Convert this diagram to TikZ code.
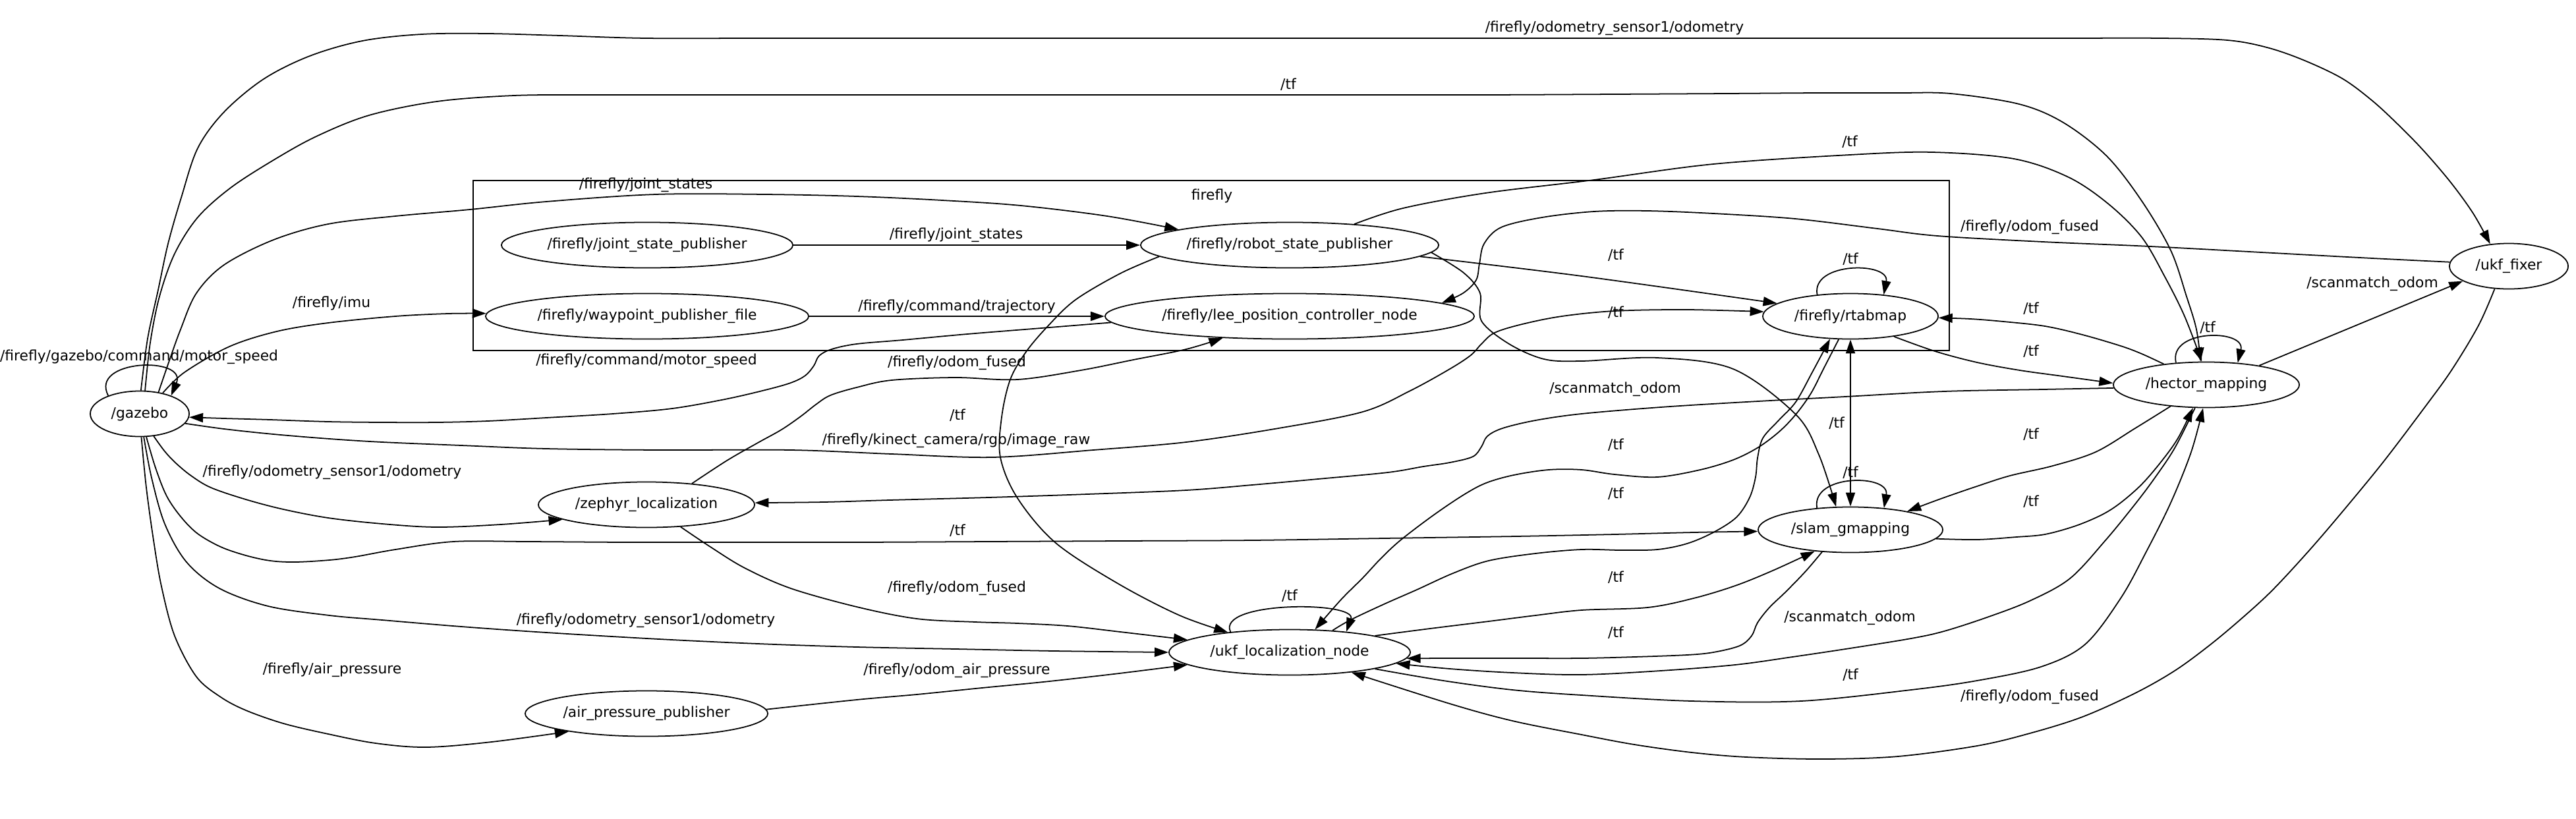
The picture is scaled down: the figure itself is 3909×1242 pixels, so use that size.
\documentclass[tikz,border=0pt]{standalone}
\usepackage{fontspec}
\setmainfont{DejaVu Sans}
\usetikzlibrary{arrows.meta,shapes.geometric}
\begin{document}
\begin{tikzpicture}[x=0.01cm,y=-0.01cm,
  every node/.style={font=\fontsize{6.2}{7.4}\selectfont},
  nd/.style={draw, ellipse, line width=0.5pt, inner sep=0pt, minimum height=0.69cm},
  lab/.style={inner sep=0pt},
  >={Triangle[length=0.21cm,width=0.14cm]},
  conn/.style={line width=0.5pt,->},
  sm/.style={smooth, tension=0.55}]
\fill[white] (0,0) rectangle (3909,1242);
\useasboundingbox (0,0) rectangle (3909,1242);
% cluster
\draw[line width=0.5pt] (718,274) rectangle (2958,532);
\node[lab] (cl) at (1839,297) {firefly};
% nodes
\node[nd, minimum width=1.50cm] (gz) at (212,628) {\makebox[0pt]{/gazebo}};
\node[nd, minimum width=4.42cm] (jsp) at (982,372) {\makebox[0pt]{/firefly/joint\_state\_publisher}};
\node[nd, minimum width=4.90cm] (wpf) at (982,480) {\makebox[0pt]{/firefly/waypoint\_publisher\_file}};
\node[nd, minimum width=4.52cm] (rsp) at (1957,372) {\makebox[0pt]{/firefly/robot\_state\_publisher}};
\node[nd, minimum width=5.60cm] (lee) at (1957,480) {\makebox[0pt]{/firefly/lee\_position\_controller\_node}};
\node[nd, minimum width=2.66cm] (rtab) at (2808,480) {\makebox[0pt]{/firefly/rtabmap}};
\node[nd, minimum width=3.28cm] (zeph) at (981,766) {\makebox[0pt]{/zephyr\_localization}};
\node[nd, minimum width=2.80cm] (slam) at (2808,804) {\makebox[0pt]{/slam\_gmapping}};
\node[nd, minimum width=2.82cm] (hect) at (3348,584) {\makebox[0pt]{/hector\_mapping}};
\node[nd, minimum width=1.80cm] (ukfx) at (3807,404) {\makebox[0pt]{/ukf\_fixer}};
\node[nd, minimum width=3.66cm] (ukfl) at (1957,990) {\makebox[0pt]{/ukf\_localization\_node}};
\node[nd, minimum width=3.68cm] (air) at (981,1083) {\makebox[0pt]{/air\_pressure\_publisher}};
% labels
\node[lab] (l1) at (2450,43) {/firefly/odometry\_sensor1/odometry};
\node[lab] (l2) at (1955,128) {/tf};
\node[lab] (l3) at (2807,215) {/tf};
\node[lab] (l4) at (980,281) {/firefly/joint\_states};
\node[lab] (l6) at (3080,345) {/firefly/odom\_fused};
\node[lab] (l7) at (1451,357) {/firefly/joint\_states};
\node[lab] (l8) at (2452,387) {/tf};
\node[lab] (l9) at (2808,393) {/tf};
\node[lab] (l10) at (503,460) {/firefly/imu};
\node[lab] (l11) at (1452,465) {/firefly/command/trajectory};
\node[lab] (l12) at (2452,474) {/tf};
\node[lab] (l13) at (3082,468) {/tf};
\node[lab] (l14) at (3600,431) {/scanmatch\_odom};
\node[lab] (l15) at (3350,497) {/tf};
\node[lab] (l16) at (3082,533) {/tf};
\node[lab] (l17) at (211,542) {/firefly/gazebo/command/motor\_speed};
\node[lab] (l18) at (981,548) {/firefly/command/motor\_speed};
\node[lab] (l19) at (1452,551) {/firefly/odom\_fused};
\node[lab] (l20) at (2451,591) {/scanmatch\_odom};
\node[lab] (l21) at (1453,630) {/tf};
\node[lab] (l22) at (2787,642) {/tf};
\node[lab] (l23) at (3082,659) {/tf};
\node[lab] (l24) at (1451,669) {/firefly/kinect\_camera/rgb/image\_raw};
\node[lab] (l25) at (2452,675) {/tf};
\node[lab] (l26) at (2808,717) {/tf};
\node[lab] (l27) at (504,717) {/firefly/odometry\_sensor1/odometry};
\node[lab] (l28) at (2452,749) {/tf};
\node[lab] (l29) at (3082,761) {/tf};
\node[lab] (l30) at (1453,805) {/tf};
\node[lab] (l31) at (2452,876) {/tf};
\node[lab] (l32) at (1452,893) {/firefly/odom\_fused};
\node[lab] (l33) at (1957,904) {/tf};
\node[lab] (l34) at (2807,938) {/scanmatch\_odom};
\node[lab] (l35) at (980,942) {/firefly/odometry\_sensor1/odometry};
\node[lab] (l36) at (2452,960) {/tf};
\node[lab] (l37) at (504,1017) {/firefly/air\_pressure};
\node[lab] (l38) at (1452,1018) {/firefly/odom\_air\_pressure};
\node[lab] (l39) at (2808,1024) {/tf};
\node[lab] (l40) at (3080,1058) {/firefly/odom\_fused};
% edges
\draw[conn] plot[sm] coordinates {(gz.87) (224,514) (240,440) (255,370) (275,300) (300,225) (340,170) (400,120) (470,85) (550,62) (640,52) (740,51) (850,54) (980,58) (1150,58) (1400,58) (1700,58) (2000,58) (2300,58) (2600,58) (2900,58) (3120,58) (3280,58) (3380,61) (3440,72) (3495,91) (3554,119) (3600,153) (3640,190) (3678,229) (3719,277) (3753,324) (ukfx.130)};
\draw[conn] plot[sm] coordinates {(gz.77) (228,520) (242,450) (265,385) (300,330) (350,285) (415,243) (480,207) (560,175) (663,154) (780,145) (900,144) (1050,144) (1250,144) (1500,144) (1750,144) (2000,144) (2250,144) (2450,143) (2620,142) (2760,141) (2880,141) (2960,142) (3064,158) (3131,186) (3197,237) (3250,305) (3294,380) (3318,450) (3333,500) (hect.104)};
\draw[conn] plot[sm] coordinates {(rsp.18) (2129,316) (2254,293) (2419,273) (2600,249) (2807,235) (2932,231) (3056,241) (3139,269) (3200,310) (3250,360) (3285,420) (3315,480) (hect.101)};
\draw[conn] plot[sm] coordinates {(gz.49) (256,550) (274,500) (298,445) (340,402) (415,364) (498,340) (600,328) (713,318) (829,306) (995,295) (1161,295) (1300,298) (1430,304) (1549,312) (1680,328) (rsp.172)};
\draw[conn] plot[sm] coordinates {(gz.42) (280,565) (348,526) (420,503) (498,490) (600,480) (680,476) (wpf.179)};
\draw[conn] (gz.150) .. controls (135,545) and (285,540) .. (gz.30);
\draw[conn] (jsp.east) -- (rsp.west);
\draw[conn] (wpf.east) -- (lee.west);
\draw[conn] plot[sm] coordinates {(lee.182) (1580,498) (1468,507) (1370,516) (1300,522) (1262,530) (1243,540) (1235,555) (1222,570) (1200,581) (1161,592) (1100,606) (1020,620) (930,628) (829,634) (740,639) (663,641) (580,641) (498,640) (410,637) (340,635) (gz.-4)};
\draw[conn] plot[sm] coordinates {(gz.-12) (340,651) (415,659) (500,666) (580,671) (700,676) (829,681) (1000,683) (1200,683) (1353,689) (1506,694) (1659,683) (1800,671) (1940,650) (2068,625) (2140,593) (2200,560) (2232,539) (2248,522) (2268,505) (2310,492) (2370,480) (2450,472) (2560,470) (rtab.177)};
\draw[conn] plot[sm] coordinates {(rsp.-5) (2400,419) (rtab.170)};
\draw[conn] plot[sm] coordinates {(rsp.-3) (2221,414) (2246,445) (2248,487) (2290,522) (2343,545) (2400,548) (2515,543) (2630,560) (2725,629) (2760,690) (slam.122)};
\draw[conn] plot[sm] coordinates {(ukfx.176) (3600,392) (3450,384) (3263,374) (3100,367) (2940,358) (2849,347) (2724,332) (2600,324) (2500,320) (2419,321) (2340,330) (2278,345) (2252,370) (2245,400) (2240,425) (2220,445) (lee.5)};
\draw[conn] plot[sm] coordinates {(zeph.25) (1103,699) (1150,672) (1186,652) (1215,632) (1238,614) (1260,600) (1300,588) (1353,577) (1450,573) (1544,576) (1640,562) (1720,546) (1800,530) (lee.198)};
\draw[conn] plot[sm] coordinates {(rsp.185) (1700,415) (1632,455) (1590,495) (1557,534) (1533,576) (1520,633) (1518,694) (1544,756) (1602,824) (1697,886) (1790,934) (ukfl.162)};
\draw[conn] plot[sm] coordinates {(zeph.-33) (1078,830) (1130,862) (1200,893) (1300,921) (1391,939) (1480,944) (1544,946) (1620,950) (1700,959) (ukfl.173)};
\draw[conn] plot[sm] coordinates {(gz.-80) (230,725) (250,795) (283,853) (333,893) (407,920) (500,934) (580,941) (700,951) (829,960) (1000,970) (1150,977) (1300,982) (1450,985) (1600,988) (ukfl.180)};
\draw[conn] plot[sm] coordinates {(gz.-74) (236,710) (253,753) (275,785) (300,810) (335,830) (373,843) (410,851) (448,853) (500,850) (539,845) (600,834) (688,822) (800,822) (950,823) (1100,823) (1300,823) (1500,822) (1700,821) (1900,820) (2100,817) (2300,814) (2450,811) (2570,808) (slam.181)};
\draw[conn] plot[sm] coordinates {(gz.-86) (222,740) (233,820) (245,890) (265,965) (298,1027) (335,1058) (373,1078) (430,1098) (498,1114) (570,1128) (647,1134) (746,1126) (air.193)};
\draw[conn] plot[sm] coordinates {(gz.-58) (250,685) (267,703) (290,722) (320,740) (373,758) (430,773) (498,786) (580,795) (663,800) (760,796) (zeph.190)};
\draw[conn] plot[sm] coordinates {(air.2) (1300,1062) (1391,1054) (1490,1044) (1583,1035) (1690,1023) (ukfl.187)};
\draw[conn] (ukfl.161) .. controls (1845,912) and (2060,912) .. (ukfl.20);
\draw[conn] plot[sm] coordinates {(rtab.243) (2767,560) (2748,597) (2725,629) (2700,655) (2668,679) (2630,698) (2580,713) (2515,724) (2450,720) (2400,713) (2350,713) (2297,721) (2255,733) (2221,751) (2175,782) (2125,820) (2095,848) (2068,877) (2035,910) (ukfl.42)};
\draw[conn] plot[sm] coordinates {(ukfl.27) (2049,941) (2100,917) (2150,895) (2205,870) (2259,851) (2330,840) (2400,834) (2460,835) (2515,834) (2560,825) (2600,808) (2635,785) (2655,755) (2664,724) (2667,695) (2675,665) (2699,638) (2725,610) (2750,565) (rtab.228)};
\draw[line width=0.5pt,<->] (rtab.south) -- (slam.north);
\draw[conn] (rtab.147) .. controls (2748,397) and (2868,397) .. (rtab.33);
\draw[conn] (slam.147) .. controls (2748,719) and (2868,719) .. (slam.33);
\draw[conn] (hect.144) .. controls (3290,499) and (3408,499) .. (hect.35);
\draw[conn] plot[sm] coordinates {(rtab.-25) (2936,533) (3000,550) (3065,562) (3130,571) (hect.179)};
\draw[conn] plot[sm] coordinates {(hect.154) (3250,537) (3218,525) (3160,508) (3103,495) (3040,488) (2990,484) (rtab.-1)};
\draw[conn] plot[sm] coordinates {(hect.211) (3240,650) (3180,686) (3115,707) (3050,722) (3000,738) (2945,757) (slam.18)};
\draw[conn] plot[sm] coordinates {(slam.-6) (3000,819) (3060,815) (3103,811) (3150,798) (3190,781) (3218,763) (3250,735) (3280,700) (3305,665) (hect.240)};
\draw[conn] plot[sm] coordinates {(hect.244) (3300,680) (3270,725) (3240,765) (3195,820) (3141,878) (3080,912) (3015,937) (2950,958) (2900,969) (2807,984) (2720,997) (2633,1009) (2520,1018) (2400,1024) (2295,1021) (2200,1015) (ukfl.-6)};
\draw[conn] plot[sm] coordinates {(ukfl.-11) (2190,1033) (2295,1047) (2400,1055) (2567,1064) (2733,1064) (2900,1047) (3000,1033) (3097,1012) (3164,978) (3218,908) (3256,839) (3294,763) (3325,686) (hect.262)};
\draw[conn] plot[sm] coordinates {(ukfx.238) (3761,494) (3720,562) (3678,620) (3615,703) (3550,782) (3500,840) (3447,897) (3400,940) (3352,980) (3300,1018) (3240,1052) (3160,1088) (3080,1113) (3000,1132) (2880,1148) (2766,1152) (2650,1149) (2567,1142) (2480,1130) (2400,1115) (2295,1094) (2200,1068) (ukfl.-18)};
\draw[conn] (hect.20) -- (ukfx.198);
\draw[conn] plot[sm] coordinates {(slam.218) (2740,867) (2710,898) (2685,922) (2667,945) (2658,965) (2640,980) (2600,990) (2560,994) (2480,997) (2400,999) (2300,999) (2200,999) (ukfl.-3)};
\draw[conn] plot[sm] coordinates {(ukfl.11) (2170,954) (2259,943) (2330,934) (2400,926) (2500,922) (2570,908) (2633,889) (2690,866) (slam.211)};
\draw[conn] plot[sm] coordinates {(hect.182) (3100,591) (2950,594) (2800,602) (2650,610) (2520,618) (2400,628) (2330,638) (2280,650) (2257,662) (2248,678) (2235,693) (2200,702) (2160,708) (2106,717) (2000,727) (1900,736) (1800,744) (1650,750) (1500,755) (1350,759) (1250,762) (zeph.1)};
\end{tikzpicture}
\end{document}
